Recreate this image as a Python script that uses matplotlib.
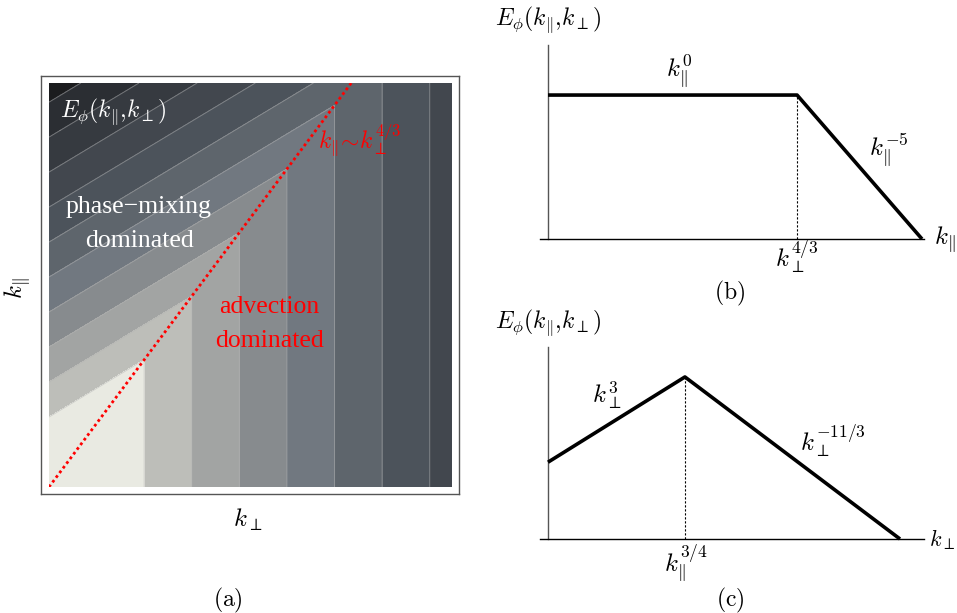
import numpy as np
import matplotlib
matplotlib.use("Agg")
import matplotlib.pyplot as plt

plt.rcParams['mathtext.fontset'] = 'cm'
plt.rcParams['font.family'] = ['DejaVu Serif']

# ---- data -------------------------------------------------------------
# panel (a): spectral exponents (log-log schematic, axes in [0, 1])
crit_slope = 4 / 3          # k_par ~ k_perp^(4/3)
adv_perp_exp = -11 / 3      # advection region: E ~ k_perp^(-11/3)
pm_perp_exp = 3             # phase-mixing region: E ~ k_perp^3 k_par^-5
pm_par_exp = -5
level_step = 0.433
level_index = [12, 11, 10, 9, 8, 7, 6, 5, 4, 3, 2, 0]
band_colors = ['#1b1c1e', '#2b2e33', '#363a40', '#42474e', '#4c535b',
               '#5e656c', '#717880', '#878b8e', '#a2a4a3', '#bdbeb9',
               '#e9eae2']

# panel (b): E vs k_par at fixed k_perp
b_x = [0.0, 0.666, 1.0]
b_y = [0.742, 0.742, 0.0]
# panel (c): E vs k_perp at fixed k_par
c_x = [0.0, 0.389, 1.0]
c_y = [0.40, 0.844, 0.0]

W, H = 957, 613
fig = plt.figure(figsize=(W / 100, H / 100), dpi=100)


def rect(x0, y0, x1, y1):
    # pixel box (top-left origin) -> figure fraction rect
    return [x0 / W, 1 - y1 / H, (x1 - x0) / W, (y1 - y0) / H]


def ftxt(x, y, s, ha='center', **kw):
    fig.text(x / W, 1 - y / H, s, ha=ha, va='center', **kw)


PAR = r'{\|}'
EPHI = r'$E_{\phi}(k_' + PAR + r'{,}k_{\perp})$'

# ---- panel (a) -------------------------------------------------------
frame = fig.add_axes(rect(41, 76, 459, 494))
frame.set_xticks([])
frame.set_yticks([])
for sp in frame.spines.values():
    sp.set_color('#555555')
    sp.set_linewidth(1.0)

ax = fig.add_axes(rect(49, 83, 452, 487))
X, Y = np.meshgrid(np.linspace(0, 1, 801), np.linspace(0, 1, 801))
F = np.where(Y <= crit_slope * X, adv_perp_exp * X,
             pm_perp_exp * X + pm_par_exp * Y)
levels = [-level_step * n for n in level_index]
levels = [min(levels[0], F.min() - 0.01)] + levels[1:-1] + [0.01]
ax.contourf(X, Y, F, levels=levels, colors=band_colors)
ax.contour(X, Y, F, levels=levels[1:-1], colors='#b4b4b4',
           linewidths=0.7, alpha=0.5, linestyles='solid')
xl = np.linspace(0, 1, 50)
ax.plot(xl, crit_slope * xl, color='red', lw=2.0,
        linestyle=(0, (1, 1.1)), clip_on=True)
ax.set_xlim(0, 1)
ax.set_ylim(0, 1)
ax.set_xticks([])
ax.set_yticks([])
for sp in ax.spines.values():
    sp.set_visible(False)

ftxt(113, 112, EPHI, color='white', fontsize=17)
ftxt(139, 207, 'phase−mixing', color='white', fontsize=18.5,
     family='Liberation Serif')
ftxt(139, 241, 'dominated', color='white', fontsize=18.5,
     family='Liberation Serif')
ftxt(269, 307, 'advection', color='red', fontsize=18.5,
     family='Liberation Serif')
ftxt(269, 341, 'dominated', color='red', fontsize=18.5,
     family='Liberation Serif')
ftxt(360, 140, r'$k_' + PAR + r'\!\sim\! k_{\perp}^{4/3}$', color='red',
     fontsize=17)
ftxt(18, 288, r'$k_' + PAR + '$', fontsize=18, rotation=90)
ftxt(248, 520, r'$k_{\perp}$', fontsize=18)
ftxt(228, 600, r'$\mathrm{(a)}$', fontsize=17)


# ---- panels (b) and (c) ---------------------------------------------
def sketch(box, xs, ys, xend, brk):
    a = fig.add_axes(rect(*box))
    a.set_xlim(0, 1)
    a.set_ylim(0, 1)
    a.axis('off')
    a.plot([0, 0], [0, 1], color='#555555', lw=1.0, clip_on=False)
    a.plot([-0.022, xend], [0, 0], color='black', lw=1.0, clip_on=False)
    a.plot(xs, ys, color='black', lw=2.6, solid_joinstyle='round',
           solid_capstyle='butt', clip_on=False)
    a.plot([xs[brk], xs[brk]], [0, ys[brk]], color='black', lw=0.8,
           linestyle=(0, (2, 1.6)))
    return a


sketch((548, 45, 922, 239), b_x, b_y, 1.005, 1)
ftxt(548, 20, EPHI, fontsize=17)
ftxt(679, 71, r'$k_' + PAR + r'^{0}$', fontsize=18)
ftxt(889, 150, r'$k_' + PAR + r'^{-5}$', fontsize=18)
ftxt(797, 257, r'$k_{\perp}^{4/3}$', fontsize=18)
ftxt(934, 240, r'$k_' + PAR + '$', ha='left', fontsize=18)
ftxt(730, 293, r'$\mathrm{(b)}$', fontsize=17)

sketch((548, 347, 900, 539), c_x, c_y, 1.068, 1)
ftxt(548, 323, EPHI, fontsize=17)
ftxt(607, 396, r'$k_{\perp}^{3}$', fontsize=18)
ftxt(833, 441, r'$k_{\perp}^{-11/3}$', fontsize=18)
ftxt(686, 563, r'$k_' + PAR + r'^{3/4}$', fontsize=18)
ftxt(955, 540, r'$k_{\perp}$', ha='right', fontsize=16)
ftxt(730, 600, r'$\mathrm{(c)}$', fontsize=17)

fig.savefig('out.png', dpi=100, facecolor='white')
